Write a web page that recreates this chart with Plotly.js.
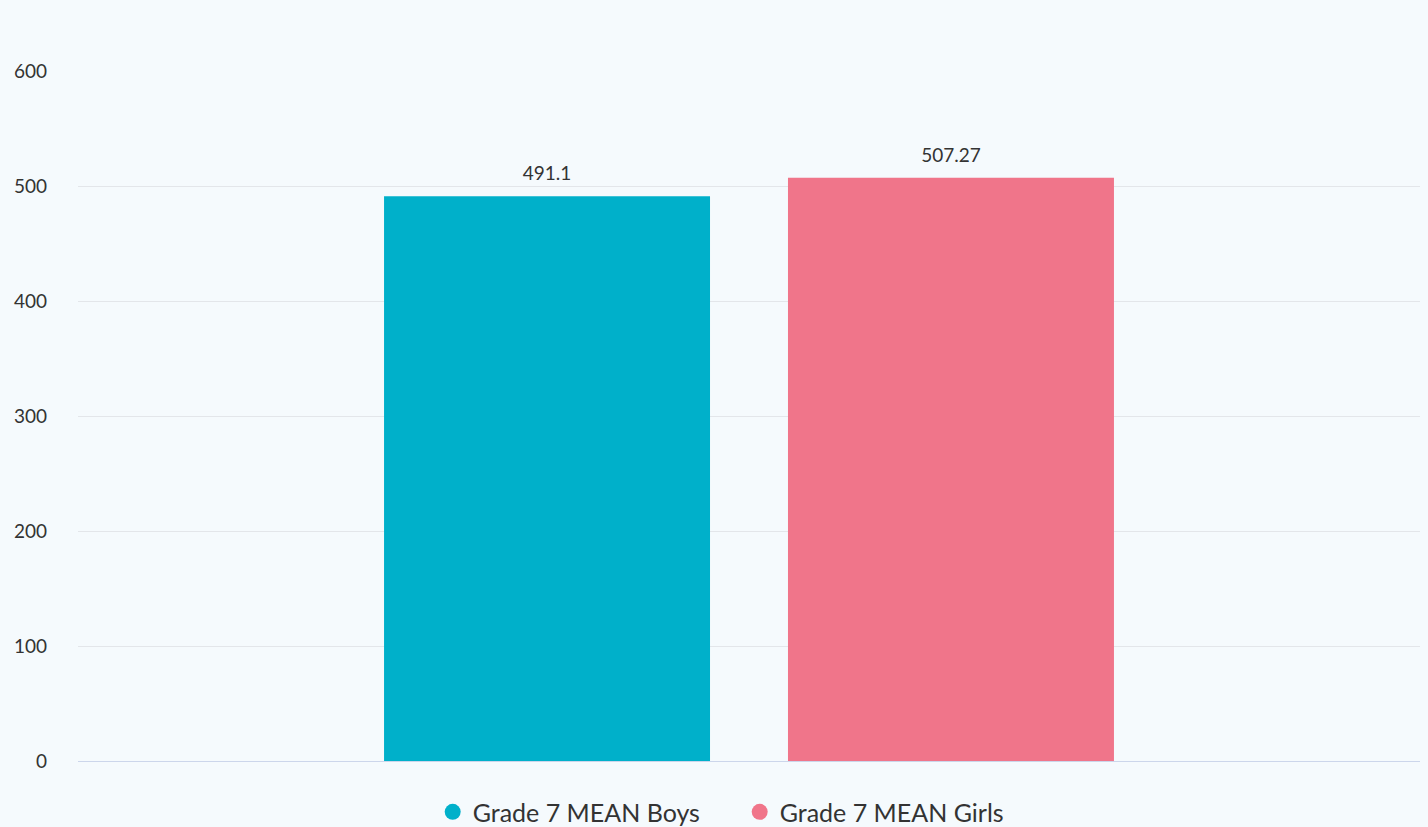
<!DOCTYPE html>
<html><head><meta charset="utf-8">
<script src="https://cdn.plot.ly/plotly-3.0.1.min.js"></script>
<style>html,body{margin:0;padding:0;background:#f5fafd;}#chart{width:1428px;height:827px;}</style>
</head><body><div id="chart"></div>
<script>
const categories = ["Grade 7"];
const seriesNames = ["Grade 7 MEAN Boys", "Grade 7 MEAN Girls"];
const boysValues = [491.1];
const girlsValues = [507.27];
const boysLabels = ["491.1"];
const girlsLabels = ["507.27"];
const colors = ["#00b0ca", "#f0758a"];
const FONT = "Lato, 'Noto Sans', sans-serif";

function barTrace(vals, name, color, grp) {
  return {type:'bar', x:categories, y:vals, marker:{color:color}, name:name, offsetgroup:grp,
          showlegend:false, hoverinfo:'y'};
}
function labelTrace(vals, labels, grp) {
  return {type:'scatter', mode:'markers+text', x:categories, y:vals, text:labels, textposition:'top center',
          offsetgroup:grp, cliponaxis:false, showlegend:false, hoverinfo:'skip',
          marker:{size:16, opacity:0, color:'rgba(0,0,0,0)'},
          textfont:{size:19, color:'#333', family:FONT}};
}
function legendTrace(name, color, grp) {
  return {type:'scatter', mode:'markers', x:[null], y:[null], name:name, offsetgroup:grp,
          marker:{symbol:'circle', size:22, color:color}};
}

const traces = [
  barTrace(boysValues, seriesNames[0], colors[0], 'b'),
  barTrace(girlsValues, seriesNames[1], colors[1], 'g'),
  labelTrace(boysValues, boysLabels, 'b'),
  labelTrace(girlsValues, girlsLabels, 'g'),
  legendTrace(seriesNames[0], colors[0], 'b'),
  legendTrace(seriesNames[1], colors[1], 'g')
];

const layout = {
  width:1428, height:827,
  paper_bgcolor:'#f5fafd', plot_bgcolor:'#f5fafd',
  margin:{l:78, r:8, t:71, b:66},
  barmode:'group', bargap:0.398, bargroupgap:0.193,
  scattermode:'group', scattergap:0.398,
  font:{family:FONT, color:'#333'},
  showlegend:true,
  legend:{orientation:'h', xref:'container', x:0.518, xanchor:'center', yref:'container', y:0.018, yanchor:'middle',
          font:{size:25, color:'#333', family:FONT}, traceorder:'normal', bgcolor:'rgba(0,0,0,0)',
          entrywidth:262, entrywidthmode:'pixels'},
  xaxis:{showticklabels:false, showgrid:false, zeroline:false, showline:true, linecolor:'#ccd6eb', linewidth:1, fixedrange:true},
  yaxis:{range:[0,600], tickvals:[0,100,200,300,400,500,600], showgrid:true, gridcolor:'#e3e6ea', gridwidth:1,
         zeroline:false, showline:false, tickfont:{size:19, color:'#333', family:FONT},
         ticklabelstandoff:30, ticks:'', fixedrange:true}
};
Plotly.newPlot('chart', traces, layout, {displayModeBar:false, staticPlot:true});
</script></body></html>
